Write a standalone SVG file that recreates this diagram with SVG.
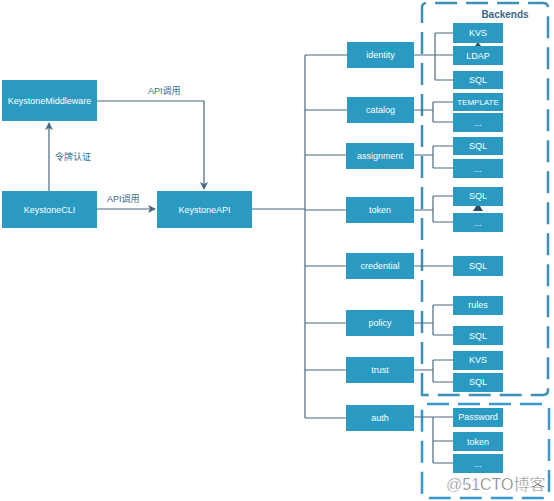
<svg xmlns="http://www.w3.org/2000/svg" width="554" height="501" viewBox="0 0 554 501">
<style>
.n{fill:#2a9ac2}
.t{fill:#fff;font-family:"Liberation Sans",Arial,sans-serif;font-size:9px;text-anchor:middle;dominant-baseline:central}
.c{fill:none;stroke:#4b6a80;stroke-width:1.2}
.l{fill:#3a6a8a;font-family:"Liberation Sans","Noto Sans CJK SC",sans-serif;font-size:9px}
</style>
<defs>
<marker id="a" markerWidth="8" markerHeight="8" refX="7" refY="4" orient="auto" markerUnits="userSpaceOnUse">
<path d="M0,0 L8,4 L0,8 L2,4 Z" fill="#4b6a80"/>
</marker>
</defs>
<rect width="554" height="501" fill="#fff"/>
<g id="boxes">
<path d="M422,395 V8 Q422,3 427,3 H543 Q548,3 548,8 V390 Q548,395 543,395 Z" fill="none" stroke="#3d90b8" stroke-width="2.5" stroke-dasharray="22 9"/>
<path d="M427,404 H544 Q549,404 549,409 V493 Q549,498 544,498 H427 Q422,498 422,493 V409 Q422,404 427,404 Z" fill="none" stroke="#3a98d0" stroke-width="2.5" stroke-dasharray="22 9"/>
<text x="505" y="14" style="fill:#3b6789;font-family:'Liberation Sans',Arial,sans-serif;font-size:10px;font-weight:bold;text-anchor:middle;dominant-baseline:central">Backends</text>
</g>
<g id="connectors">
<path class="c" d="M97,101 H204 V189" marker-end="url(#a)"/>
<path class="c" d="M49,191 V123" marker-end="url(#a)"/>
<path class="c" d="M97,209 H155" marker-end="url(#a)"/>
<path class="c" d="M252,209 H305"/>
<path class="c" d="M305,55 V418"/>
<path class="c" d="M305,55 H347 M305,110 H347 M305,155 H347 M305,210 H347 M305,266 H347 M305,323 H347 M305,370 H347 M305,418 H347"/>
<path class="c" d="M414,55 H453 M435,33 V80 M435,33 H453 M435,80 H453"/>
<path class="c" d="M414,110 H433 M433,102 V122 M433,102 H453 M433,122 H453"/>
<path class="c" d="M414,155 H433 M433,146 V168 M433,146 H453 M433,168 H453"/>
<path class="c" d="M414,210 H433 M433,196 V222 M433,196 H453 M433,222 H453"/>
<path class="c" d="M414,266 H453"/>
<path class="c" d="M414,323 H433 M433,305 V335 M433,305 H453 M433,335 H453"/>
<path class="c" d="M414,370 H433 M433,360 V382 M433,360 H453 M433,382 H453"/>
<path class="c" d="M414,417 H453 M433,417 V463 M433,441 H453 M433,463 H453"/>
<polygon points="478,42 475,46 481,46" fill="#2f4e63"/>
<polygon points="478,203 473,211 483,211" fill="#2f4e63"/>
</g>
<g class="l">
<text x="148" y="94">API调用</text>
<text x="55" y="160">令牌认证</text>
<text x="107" y="202">API调用</text>
</g>
<g id="n-middleware"><rect class="n" x="2" y="80" width="95" height="41"/><text class="t" x="49.5" y="100.5">KeystoneMiddleware</text></g>
<g id="n-cli"><rect class="n" x="2" y="191" width="95" height="37"/><text class="t" x="49.5" y="209.5">KeystoneCLI</text></g>
<g id="n-api"><rect class="n" x="157" y="191" width="95" height="37"/><text class="t" x="204.5" y="209.5">KeystoneAPI</text></g>
<g id="n-identity"><rect class="n" x="347" y="42" width="67" height="26"/><text class="t" x="380.5" y="55">identity</text></g>
<g id="n-catalog"><rect class="n" x="347" y="97" width="67" height="26"/><text class="t" x="380.5" y="110">catalog</text></g>
<g id="n-assignment"><rect class="n" x="346" y="143" width="68" height="26"/><text class="t" x="380" y="156">assignment</text></g>
<g id="n-token"><rect class="n" x="346" y="197" width="68" height="26"/><text class="t" x="380" y="210">token</text></g>
<g id="n-credential"><rect class="n" x="346" y="253" width="68" height="26"/><text class="t" x="380" y="266">credential</text></g>
<g id="n-policy"><rect class="n" x="346" y="310" width="68" height="26"/><text class="t" x="380" y="323">policy</text></g>
<g id="n-trust"><rect class="n" x="346" y="357" width="68" height="26"/><text class="t" x="380" y="370">trust</text></g>
<g id="n-auth"><rect class="n" x="346" y="405" width="68" height="26"/><text class="t" x="380" y="418">auth</text></g>
<g id="b-identity-kvs"><rect class="n" x="453" y="23" width="50" height="20"/><text class="t" x="478" y="33">KVS</text></g>
<g id="b-identity-ldap"><rect class="n" x="453" y="46" width="50" height="19"/><text class="t" x="478" y="55.5">LDAP</text></g>
<g id="b-identity-sql"><rect class="n" x="453" y="71" width="50" height="18"/><text class="t" x="478" y="80">SQL</text></g>
<g id="b-catalog-template"><rect class="n" x="453" y="93" width="50" height="18"/><text class="t" x="478" y="102" style="font-size:8px">TEMPLATE</text></g>
<g id="b-catalog-more"><rect class="n" x="453" y="113" width="50" height="19"/><text class="t" x="478" y="122.5">...</text></g>
<g id="b-assignment-sql"><rect class="n" x="453" y="137" width="50" height="18"/><text class="t" x="478" y="146">SQL</text></g>
<g id="b-assignment-more"><rect class="n" x="453" y="159" width="50" height="19"/><text class="t" x="478" y="168.5">...</text></g>
<g id="b-token-sql"><rect class="n" x="453" y="187" width="50" height="19"/><text class="t" x="478" y="196">SQL</text></g>
<g id="b-token-more"><rect class="n" x="453" y="213" width="50" height="19"/><text class="t" x="478" y="222.5">...</text></g>
<g id="b-credential-sql"><rect class="n" x="453" y="256" width="50" height="20"/><text class="t" x="478" y="266">SQL</text></g>
<g id="b-policy-rules"><rect class="n" x="453" y="296" width="50" height="19"/><text class="t" x="478" y="304.5">rules</text></g>
<g id="b-policy-sql"><rect class="n" x="453" y="326" width="50" height="19"/><text class="t" x="478" y="335.5">SQL</text></g>
<g id="b-trust-kvs"><rect class="n" x="453" y="351" width="50" height="19"/><text class="t" x="478" y="360">KVS</text></g>
<g id="b-trust-sql"><rect class="n" x="453" y="373" width="50" height="19"/><text class="t" x="478" y="382">SQL</text></g>
<g id="b-auth-password"><rect class="n" x="453" y="408" width="50" height="19"/><text class="t" x="478" y="417">Password</text></g>
<g id="b-auth-token"><rect class="n" x="453" y="432" width="50" height="19"/><text class="t" x="478" y="441.5">token</text></g>
<g id="b-auth-more"><rect class="n" x="453" y="454" width="50" height="19"/><text class="t" x="478" y="463.5">...</text></g>
<text x="446" y="490" style="fill:#5e5e5e;stroke:#fff;stroke-width:0.5;font-family:'Liberation Sans','Noto Sans CJK SC',sans-serif;font-size:16px">@51CTO博客</text>
</svg>
